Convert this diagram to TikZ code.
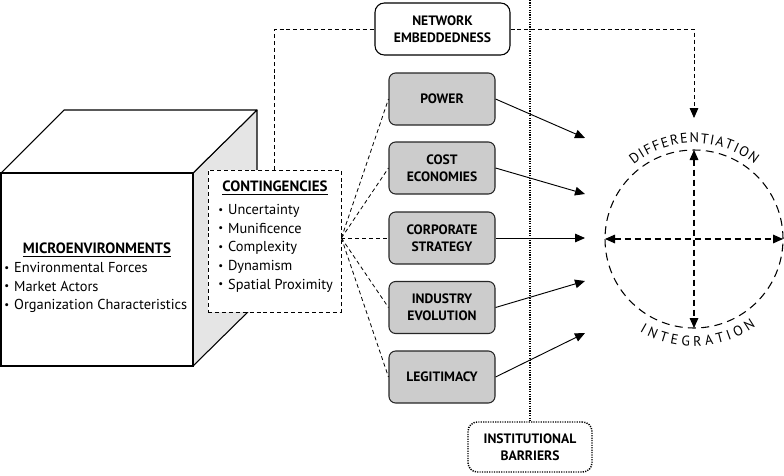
\documentclass[tikz,border=0pt]{standalone}
\usepackage{fontspec}
\setmainfont{PT Sans}
\usepackage{graphicx}
\usetikzlibrary{arrows.meta}
\newcommand{\bul}{\raisebox{0.2ex}{\scalebox{0.75}{\textbullet}}\hspace{0.35em}}
\begin{document}
\begin{tikzpicture}[x=0.75pt,y=-0.75pt,
  every node/.style={font=\fontsize{10.8}{14}\selectfont},
  lbl/.style={font=\fontsize{10.2}{12.5}\selectfont\bfseries, align=center},
  gbox/.style={lbl, draw=black!85, fill=black!20, rounded corners=5pt, minimum width=79.5pt, minimum height=39pt, line width=0.8pt, inner sep=0pt},
  dsh/.style={dash pattern=on 3pt off 2.2pt, line width=0.6pt},
  dots/.style={dash pattern=on 0.9pt off 0.9pt, line width=1.1pt},
  tip/.style={-{Triangle[length=7.5pt,width=6.5pt]}},
  lst/.style={align=left, anchor=north west, inner sep=0pt},
  arcch/.style={inner sep=0pt, anchor=base, font=\fontsize{10.5}{12}\selectfont},
  ]
\fontsize{10.5}{12}\selectfont
\useasboundingbox (0,0) rectangle (784,475);

% cube
\draw[fill=black!10, line width=0.8pt, line join=round] (193,173) -- (257,110) -- (257,303) -- (193,366) -- cycle;
\draw[fill=white, line width=0.8pt, line join=round] (1,173) -- (64,110) -- (257,110) -- (193,173) -- cycle;
\draw[fill=white, line width=0.8pt] (1,173) rectangle (193,366);
\node[font=\fontsize{11.2}{14}\selectfont\bfseries] (microtitle) at (97,250) {\underline{MICROENVIRONMENTS}};
\node[lst] (microlist) at (4,262) {\bul Environmental Forces\\ \bul Market Actors\\ \bul Organization Characteristics};

% contingencies
\node[draw, dsh, fill=white, minimum width=99.75pt, minimum height=106.5pt, inner sep=0pt] (cont) at (274.5,241) {};
\node[font=\fontsize{11.2}{14}\selectfont\bfseries] (conttitle) at (275,188) {\underline{CONTINGENCIES}};
\node[lst] (contlist) at (218,204) {\bul Uncertainty\\ \bul Munificence\\ \bul Complexity\\ \bul Dynamism\\ \bul Spatial Proximity};

% network embeddedness
\node[lbl, draw, fill=white, rounded corners=7pt, line width=0.8pt, minimum width=101.25pt, minimum height=39pt, inner sep=0pt] (net) at (442.5,29) {NETWORK\\EMBEDDEDNESS};

% institutional barriers
\node[lbl, draw, dots, rounded corners=7pt, minimum width=93pt, minimum height=37.5pt, inner sep=0pt] (inst) at (530,447) {INSTITUTIONAL\\BARRIERS};
\coordinate (dtop) at (530,0);
\draw[dots] (dtop) -- (inst.north);

% gray boxes
\node[gbox] (power) at (442,99) {POWER};
\node[gbox] (cost) at (442,168) {COST\\ECONOMIES};
\node[gbox] (corp) at (442,238) {CORPORATE\\STRATEGY};
\node[gbox] (ind) at (442,307.5) {INDUSTRY\\EVOLUTION};
\node[gbox] (legit) at (442,377) {LEGITIMACY};

% fan
\coordinate (fan) at (cont.east |- corp.west);
\foreach \b in {power,cost,corp,ind,legit} \draw[dsh] (fan) -- (\b.west);

% network dashed connector
\coordinate (netend) at (694,118);
\draw[dsh] (cont.north) |- (net.west);
\draw[dsh, tip] (net.east) -| (netend);

% targets
\coordinate (t1) at (585,138);
\coordinate (t2) at (585,194);
\coordinate (t3) at (585,238);
\coordinate (t4) at (585,281);
\coordinate (t5) at (585,333);
\draw[line width=0.7pt, tip] (power.east) -- (t1);
\draw[line width=0.7pt, tip] (cost.east) -- (t2);
\draw[line width=0.7pt, tip] (corp.east) -- (t3);
\draw[line width=0.7pt, tip] (ind.east) -- (t4);
\draw[line width=0.7pt, tip] (legit.east) -- (t5);

% circle
\node[circle, draw, dash pattern=on 6pt off 4pt, line width=0.8pt, minimum size=133.5pt, inner sep=0pt, outer sep=0pt] (circ) at (694,239) {};
\draw[dash pattern=on 4.5pt off 3pt, line width=0.8pt, {Triangle[length=7.5pt,width=6.5pt]}-{Triangle[length=7.5pt,width=6.5pt]}] (circ.west) -- (circ.east);
\draw[dash pattern=on 4.5pt off 3pt, line width=0.8pt, {Triangle[length=7.5pt,width=6.5pt]}-{Triangle[length=7.5pt,width=6.5pt]}] (circ.north) -- (circ.south);

% curved labels (letters placed one by one)
\begin{scope}[shift={(circ.center)}, x=0.75pt, y=0.75pt]
\xdef\cur{129}
\foreach \ch in {D,I,F,F,E,R,E,N,T,I,A,T,I,O,N} {
  \pgfmathsetmacro\w{width("\ch")/0.75}
  \pgfmathsetmacro\a{\cur - (\w/2)/96*180/pi}
  \node[arcch, rotate=\a-90] at (\a:96) {\ch};
  \pgfmathparse{\cur - (\w+1.4)/96*180/pi}
  \xdef\cur{\pgfmathresult}
}
\xdef\cur{239.5}
\foreach \ch in {I,N,T,E,G,R,A,T,I,O,N} {
  \pgfmathsetmacro\w{width("\ch")/0.75}
  \pgfmathsetmacro\a{\cur + (\w/2)/107*180/pi}
  \node[arcch, rotate=\a+90] at (\a:107) {\ch};
  \pgfmathparse{\cur + (\w+3.8)/107*180/pi}
  \xdef\cur{\pgfmathresult}
}
\end{scope}
\end{tikzpicture}
\end{document}
